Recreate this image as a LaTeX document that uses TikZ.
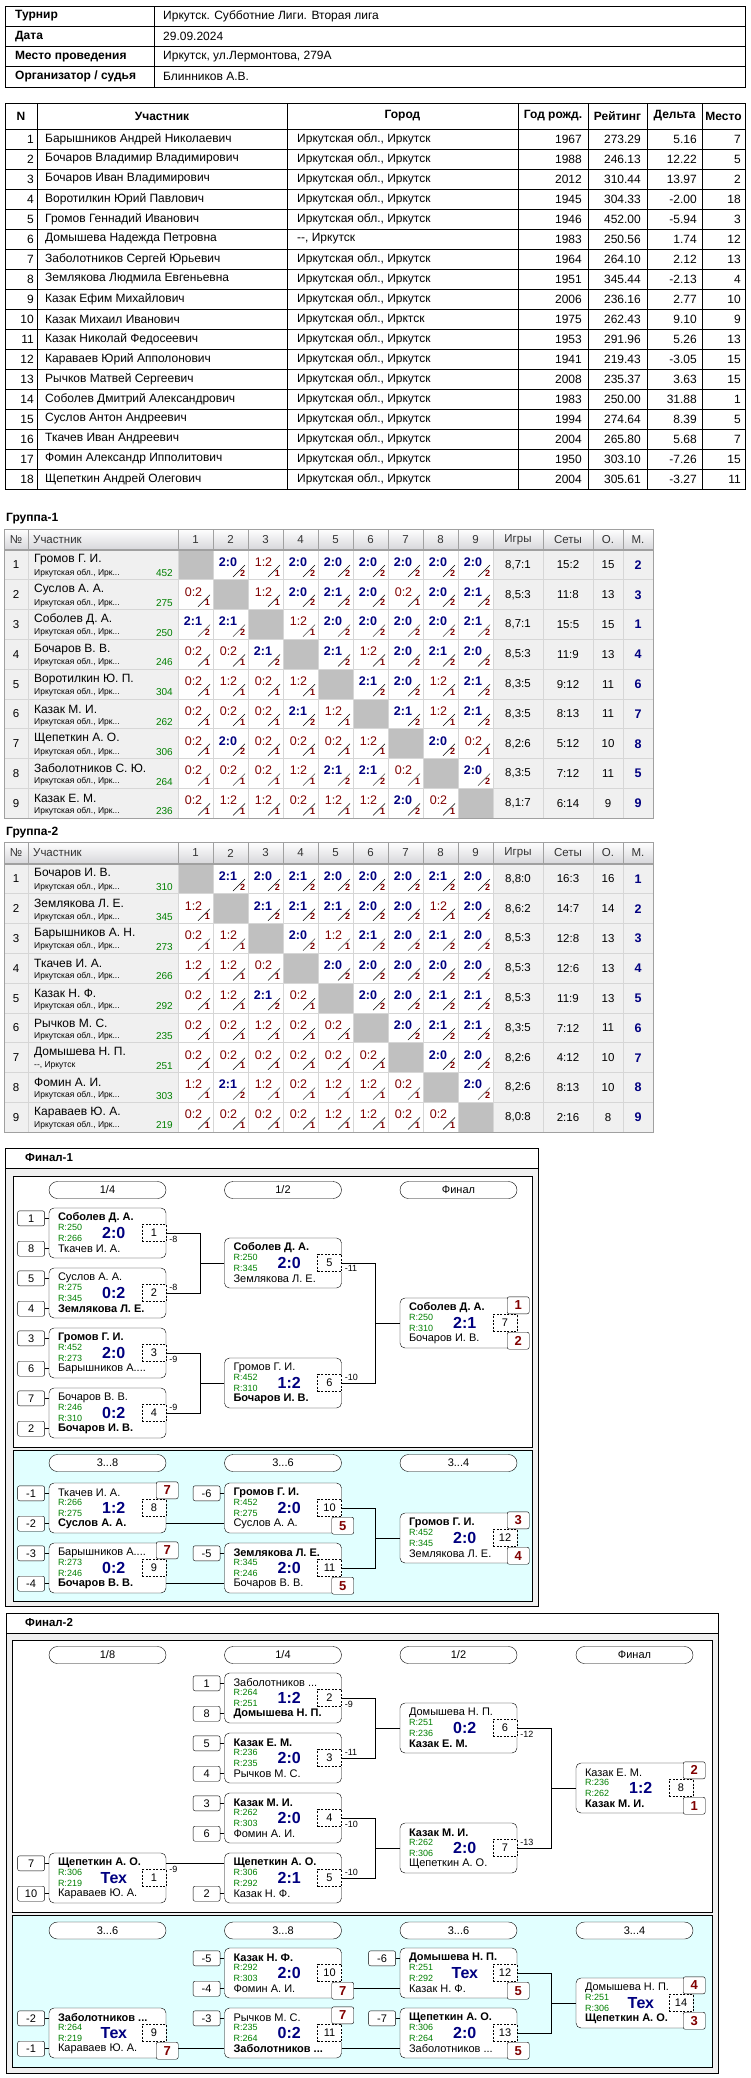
\documentclass[tikz,border=0pt]{standalone}
\usepackage{fontspec}
\setmainfont{Liberation Sans}
\usetikzlibrary{positioning}

\definecolor{winblue}{RGB}{0,0,128}
\definecolor{lossred}{RGB}{128,0,0}
\definecolor{rgreen}{RGB}{0,128,0}
\definecolor{cellgray}{RGB}{240,240,240}
\definecolor{diaggray}{RGB}{192,192,192}
\definecolor{gridgray}{RGB}{214,214,214}
\definecolor{edgegray}{RGB}{160,160,160}
\definecolor{hdgray}{RGB}{214,214,218}
\definecolor{framegray}{RGB}{240,240,240}
\definecolor{consol}{RGB}{225,255,255}

\newcommand\fsz[1]{\fontsize{#1}{#1}\selectfont}

\tikzset{
  tkey/.style={anchor=west, inner sep=0pt, font=\fsz{12}\bfseries},
  tval/.style={anchor=west, inner sep=0pt, font=\fsz{12}},
  thead/.style={inner sep=0pt, font=\fsz{12}\bfseries},
  tleft/.style={anchor=west, inner sep=0pt, font=\fsz{12}},
  tright/.style={anchor=east, inner sep=0pt, font=\fsz{12}},
  ghead/.style={inner sep=0pt, font=\fsz{11.5}, text=black!80},
  gname/.style={anchor=west, inner sep=0pt, font=\fsz{12}},
  gcity/.style={anchor=west, inner sep=0pt, font=\fsz{8.5}},
  grate/.style={anchor=east, inner sep=0pt, font=\fsz{10}, text=rgreen},
  gstat/.style={inner sep=0pt, font=\fsz{11.5}},
  gplace/.style={inner sep=0pt, font=\fsz{12.5}\bfseries, text=winblue},
  winsc/.style={inner sep=0pt, font=\fsz{12.5}\bfseries, text=winblue},
  losssc/.style={inner sep=0pt, font=\fsz{12.5}, text=lossred},
  ptsc/.style={inner sep=0pt, font=\fsz{9}\bfseries, text=lossred},
  slash/.style={line width=0.5pt},
  gline/.style={gridgray, line width=0.7pt},
  mbox/.style={draw, fill=white, rounded corners=5pt, minimum width=117pt, minimum height=50pt, inner sep=0pt},
  pill/.style={draw, fill=white, rounded corners=8.5pt, minimum width=117pt, minimum height=17pt, inner sep=0pt, font=\fsz{11}},
  seedbox/.style={draw, fill=white, rounded corners=2pt, minimum width=27pt, minimum height=15pt, inner sep=0pt, font=\fsz{11}},
  placebox/.style={draw, fill=white, rounded corners=2pt, minimum width=22pt, minimum height=17pt, inner sep=0pt, font=\fsz{13}\bfseries, text=lossred},
  mnum/.style={draw, dash pattern=on 2pt off 1.5pt, fill=white, minimum width=24pt, minimum height=17pt, inner sep=0pt, font=\fsz{11}},
  pname/.style={anchor=west, inner sep=0pt, font=\fsz{11}},
  prate/.style={anchor=west, inner sep=0pt, font=\fsz{9}, text=rgreen},
  pscore/.style={inner sep=0pt, font=\fsz{16}\bfseries, text=winblue},
  flabel/.style={inner sep=0pt, font=\fsz{9}},
  link/.style={line width=0.7pt},
}

% one score cell of a group table, at (\cx,\cy)
\def\gcellparse#1:#2\relax{%
  \if x#1%
    \fill[diaggray] (\cx,\cy) rectangle ++(35,29.8);
  \else
    \ifnum#1=2
      \node[winsc] at (\cx+15,\cy+12) {#1:#2};
      \node[ptsc] at (\cx+29.5,\cy+23) {2};
    \else
      \node[losssc] at (\cx+15.5,\cy+12) {#1:#2};
      \node[ptsc] at (\cx+29.5,\cy+23) {1};
    \fi
    \draw[slash] (\cx+20,\cy+27) -- (\cx+32,\cy+15);
  \fi}

% header and backgrounds of a group table
\newcommand\gframe[2]{%
  \shade[top color=white, bottom color=hdgray] (4,#1) rectangle (653,#2);
  \fill[cellgray] (4,#2) rectangle (178,#2+268);
  \fill[white] (178,#2) rectangle (493,#2+268);
  \fill[cellgray] (493,#2) rectangle (653,#2+268);
  \pgfmathsetmacro\hy{(#1+#2)/2}
  \node[ghead] at (16,\hy) {№};
  \node[ghead, anchor=west] at (33,\hy) {Участник};
  \foreach \ci in {1,...,9} \node[ghead] at (160.5+35*\ci,\hy) {\ci};
  \foreach \hx/\htxt in {518/Игры,568/Сеты,608/О.,638/М.} \node[ghead] at (\hx,\hy) {\htxt};
}

% grid lines of a group table
\newcommand\ggrid[2]{%
  \foreach \xx in {28,493,543,593,623} {\draw[gline] (\xx,#2) -- (\xx,#2+268); \draw[edgegray] (\xx,#1) -- (\xx,#2);}
  \foreach \xx in {178,213,...,458} {\draw[gline] (\xx,#2) -- (\xx,#2+268); \draw[edgegray] (\xx,#1) -- (\xx,#2);}
  \foreach \k in {1,...,8} \draw[gline] (4,#2+29.8*\k) -- (653,#2+29.8*\k);
  \draw[edgegray, line width=1.5pt] (4,#2) -- (653,#2);
  \draw[edgegray, line width=0.8pt] (4,#1) rectangle (653,#2+268);
}

% one row of a group table
\newcommand\growbody{%
  \pgfmathsetmacro\cy{\gtop+29.8*(\ri-1)}
  \node[gstat] (\gid-n\ri) at (16,\cy+15) {\ri};
  \node[gname] (\gid-a\ri) at (34,\cy+10) {\nm};
  \node[gcity] (\gid-c\ri) at (34,\cy+23) {\ct};
  \node[grate] (\gid-r\ri) at (173,\cy+23) {\rt};
  \foreach \sco [count=\ci] in \scl {%
    \pgfmathsetmacro\cx{178+35*(\ci-1)}
    \expandafter\gcellparse\sco\relax}
  \node[gstat] (\gid-i\ri) at (518,\cy+15) {\ig};
  \node[gstat] (\gid-s\ri) at (568,\cy+15) {\se};
  \node[gstat] (\gid-o\ri) at (608,\cy+15) {\oc};
  \node[gplace] (\gid-m\ri) at (638,\cy+15) {\pl};
}

% match box: id, centre, upper, lower, R upper, R lower, score, number, winner
\newcommand\matchbox[9]{%
  \ifnum#9=1 \def\fa{\bfseries}\def\fb{}\else\def\fa{}\def\fb{\bfseries}\fi
  \node[mbox] (#1) at (#2) {};
  \node[pname] (#1-a) at ([xshift=9pt,yshift=-10pt]#1.north west) {\fa #3};
  \node[prate] (#1-ra) at ([xshift=9pt,yshift=-20pt]#1.north west) {R:#5};
  \node[prate] (#1-rb) at ([xshift=9pt,yshift=-31pt]#1.north west) {R:#6};
  \node[pname] (#1-b) at ([xshift=9pt,yshift=-41pt]#1.north west) {\fb #4};
  \node[pscore] (#1-sc) at ([xshift=65pt]#1.west) {#7};
  \node[mnum, anchor=east] (#1-n) at (#1.east) {#8};
}
\newcommand\seedup[2]{%
  \node[seedbox, anchor=east] (#1-su) at ([xshift=-4pt,yshift=-10.5pt]#1.north west) {#2};
  \draw[link] (#1-su.east) -- (#1-su.east -| #1.west);}
\newcommand\seeddown[2]{%
  \node[seedbox, anchor=east] (#1-sd) at ([xshift=-4pt,yshift=9.5pt]#1.south west) {#2};
  \draw[link] (#1-sd.east) -- (#1-sd.east -| #1.west);}
\newcommand\placeup[2]{\node[placebox] (#1-pu) at ([xshift=1pt,yshift=-7.5pt]#1.north east) {#2};}
\newcommand\placedown[2]{\node[placebox] (#1-pd) at ([xshift=1pt,yshift=7.5pt]#1.south east) {#2};}
% two boxes feeding the next one
\newcommand\feedpair[5]{%
  \draw[link] (#1.east) -- ++(34,0) |- (#3.west);
  \draw[link] (#2.east) -- ++(34,0) |- (#3.west);
  \node[flabel, anchor=north west] (#1-l) at ([xshift=3pt,yshift=-2.5pt]#1.east) {#4};
  \node[flabel, anchor=south west] (#2-l) at ([xshift=3pt,yshift=2.5pt]#2.east) {#5};}

\begin{document}
\begin{tikzpicture}[x=1pt,y=-1pt]
\useasboundingbox (0,0) rectangle (750,2078);
\fill[white] (0,0) rectangle (750,2078);

% tournament header
\draw[line width=0.8pt] (5,6) rectangle (745,87);
\foreach \yy in {26.25,46.5,66.75} \draw[line width=0.8pt] (5,\yy) -- (745,\yy);
\draw[line width=0.8pt] (154,6) -- (154,87);
\foreach \hkey/\hval [count=\i from 0] in {Турнир/Иркутск. Субботние Лиги. Вторая лига, Дата/29.09.2024, {Место проведения}/{Иркутск, ул.Лермонтова, 279А}, {Организатор / судья}/Блинников А.В.}
{
  \node[tkey] (hk\i) at (15,16.1+20.25*\i) {\hkey};
  \node[tval] (hv\i) at (163,16.1+20.25*\i) {\hval};
}

% participants
\draw[line width=0.8pt] (5,103) rectangle (745,489);
\foreach \xx in {37,287,518,588,647,702} \draw[line width=0.8pt] (\xx,103) -- (\xx,489);
\foreach \k in {0,...,17} \draw[line width=0.8pt] (5,129+20*\k) -- (745,129+20*\k);
\foreach \hx/\htxt [count=\i] in {21/N,162/Участник,402.5/Город,553/{Год рожд.},617.5/Рейтинг,674.5/Дельта,723.5/Место}
  \node[thead] (ph\i) at (\hx,116) {\htxt};
\foreach \nm/\ct/\yr/\rt/\dl/\pl [count=\ri] in {
  {Барышников Андрей Николаевич}/{Иркутская обл., Иркутск}/1967/273.29/5.16/7,
  {Бочаров Владимир Владимирович}/{Иркутская обл., Иркутск}/1988/246.13/12.22/5,
  {Бочаров Иван Владимирович}/{Иркутская обл., Иркутск}/2012/310.44/13.97/2,
  {Воротилкин Юрий Павлович}/{Иркутская обл., Иркутск}/1945/304.33/-2.00/18,
  {Громов Геннадий Иванович}/{Иркутская обл., Иркутск}/1946/452.00/-5.94/3,
  {Домышева Надежда Петровна}/{-{}-, Иркутск}/1983/250.56/1.74/12,
  {Заболотников Сергей Юрьевич}/{Иркутская обл., Иркутск}/1964/264.10/2.12/13,
  {Землякова Людмила Евгеньевна}/{Иркутская обл., Иркутск}/1951/345.44/-2.13/4,
  {Казак Ефим Михайлович}/{Иркутская обл., Иркутск}/2006/236.16/2.77/10,
  {Казак Михаил Иванович}/{Иркутская обл., Ирктск}/1975/262.43/9.10/9,
  {Казак Николай Федосеевич}/{Иркутская обл., Иркутск}/1953/291.96/5.26/13,
  {Караваев Юрий Апполонович}/{Иркутская обл., Иркутск}/1941/219.43/-3.05/15,
  {Рычков Матвей Сергеевич}/{Иркутская обл., Иркутск}/2008/235.37/3.63/15,
  {Соболев Дмитрий Александрович}/{Иркутская обл., Иркутск}/1983/250.00/31.88/1,
  {Суслов Антон Андреевич}/{Иркутская обл., Иркутск}/1994/274.64/8.39/5,
  {Ткачев Иван Андреевич}/{Иркутская обл., Иркутск}/2004/265.80/5.68/7,
  {Фомин Александр Ипполитович}/{Иркутская обл., Иркутск}/1950/303.10/-7.26/15,
  {Щепеткин Андрей Олегович}/{Иркутская обл., Иркутск}/2004/305.61/-3.27/11}
{
  \node[tright] (pn\ri) at (34,119+20*\ri) {\ri};
  \node[tleft] (pa\ri) at (45,119+20*\ri) {\nm};
  \node[tleft] (pc\ri) at (297,119+20*\ri) {\ct};
  \node[tright] (py\ri) at (582,119+20*\ri) {\yr};
  \node[tright] (pr\ri) at (641,119+20*\ri) {\rt};
  \node[tright] (pd\ri) at (697,119+20*\ri) {\dl};
  \node[tright] (pp\ri) at (741,119+20*\ri) {\pl};
}

% Группа-1
\node[anchor=west, inner sep=0pt, font=\fsz{12}\bfseries] (g1t) at (6,519) {Группа-1};
\gframe{529}{550}
\def\gtop{550}\def\gid{g1}
\foreach \nm/\ct/\rt/\scl/\ig/\se/\oc/\pl [count=\ri] in {
  {Громов Г. И.}/{Иркутская обл., Ирк...}/452/{x:x,2:0,1:2,2:0,2:0,2:0,2:0,2:0,2:0}/{8,7:1}/15:2/15/2,
  {Суслов А. А.}/{Иркутская обл., Ирк...}/275/{0:2,x:x,1:2,2:0,2:1,2:0,0:2,2:0,2:1}/{8,5:3}/11:8/13/3,
  {Соболев Д. А.}/{Иркутская обл., Ирк...}/250/{2:1,2:1,x:x,1:2,2:0,2:0,2:0,2:0,2:1}/{8,7:1}/15:5/15/1,
  {Бочаров В. В.}/{Иркутская обл., Ирк...}/246/{0:2,0:2,2:1,x:x,2:1,1:2,2:0,2:1,2:0}/{8,5:3}/11:9/13/4,
  {Воротилкин Ю. П.}/{Иркутская обл., Ирк...}/304/{0:2,1:2,0:2,1:2,x:x,2:1,2:0,1:2,2:1}/{8,3:5}/9:12/11/6,
  {Казак М. И.}/{Иркутская обл., Ирк...}/262/{0:2,0:2,0:2,2:1,1:2,x:x,2:1,1:2,2:1}/{8,3:5}/8:13/11/7,
  {Щепеткин А. О.}/{Иркутская обл., Ирк...}/306/{0:2,2:0,0:2,0:2,0:2,1:2,x:x,2:0,0:2}/{8,2:6}/5:12/10/8,
  {Заболотников С. Ю.}/{Иркутская обл., Ирк...}/264/{0:2,0:2,0:2,1:2,2:1,2:1,0:2,x:x,2:0}/{8,3:5}/7:12/11/5,
  {Казак Е. М.}/{Иркутская обл., Ирк...}/236/{0:2,1:2,1:2,0:2,1:2,1:2,2:0,0:2,x:x}/{8,1:7}/6:14/9/9}
{\growbody}
\ggrid{529}{550}

% Группа-2
\node[anchor=west, inner sep=0pt, font=\fsz{12}\bfseries] (g2t) at (6,833) {Группа-2};
\gframe{842}{864}
\def\gtop{864}\def\gid{g2}
\foreach \nm/\ct/\rt/\scl/\ig/\se/\oc/\pl [count=\ri] in {
  {Бочаров И. В.}/{Иркутская обл., Ирк...}/310/{x:x,2:1,2:0,2:1,2:0,2:0,2:0,2:1,2:0}/{8,8:0}/16:3/16/1,
  {Землякова Л. Е.}/{Иркутская обл., Ирк...}/345/{1:2,x:x,2:1,2:1,2:1,2:0,2:0,1:2,2:0}/{8,6:2}/14:7/14/2,
  {Барышников А. Н.}/{Иркутская обл., Ирк...}/273/{0:2,1:2,x:x,2:0,1:2,2:1,2:0,2:1,2:0}/{8,5:3}/12:8/13/3,
  {Ткачев И. А.}/{Иркутская обл., Ирк...}/266/{1:2,1:2,0:2,x:x,2:0,2:0,2:0,2:0,2:0}/{8,5:3}/12:6/13/4,
  {Казак Н. Ф.}/{Иркутская обл., Ирк...}/292/{0:2,1:2,2:1,0:2,x:x,2:0,2:0,2:1,2:1}/{8,5:3}/11:9/13/5,
  {Рычков М. С.}/{Иркутская обл., Ирк...}/235/{0:2,0:2,1:2,0:2,0:2,x:x,2:0,2:1,2:1}/{8,3:5}/7:12/11/6,
  {Домышева Н. П.}/{-{}-, Иркутск}/251/{0:2,0:2,0:2,0:2,0:2,0:2,x:x,2:0,2:0}/{8,2:6}/4:12/10/7,
  {Фомин А. И.}/{Иркутская обл., Ирк...}/303/{1:2,2:1,1:2,0:2,1:2,1:2,0:2,x:x,2:0}/{8,2:6}/8:13/10/8,
  {Караваев Ю. А.}/{Иркутская обл., Ирк...}/219/{0:2,0:2,0:2,0:2,1:2,1:2,0:2,0:2,x:x}/{8,0:8}/2:16/8/9}
{\growbody}
\ggrid{842}{864}

% Финал-1
\draw[fill=framegray, line width=0.8pt] (5,1148) rectangle (538,1606);
\draw[fill=white, line width=0.8pt] (5,1148) rectangle (538,1168);
\node[anchor=west, inner sep=0pt, font=\fsz{11.5}\bfseries] (f1t) at (25,1158) {Финал-1};
\draw[fill=white] (13,1176) rectangle (532,1447);
\draw[fill=consol] (13,1450) rectangle (532,1601);
\node[pill] (f1p1) at (107.5,1190) {1/4};
\node[pill] (f1p2) at (283,1190) {1/2};
\node[pill] (f1p3) at (458.5,1190) {Финал};
\node[pill] (f1p4) at (107.5,1463) {3...8};
\node[pill] (f1p5) at (283,1463) {3...6};
\node[pill] (f1p6) at (458.5,1463) {3...4};

\matchbox{fa1}{107.5,1233}{Соболев Д. А.}{Ткачев И. А.}{250}{266}{2:0}{1}{1}
\matchbox{fa2}{107.5,1293}{Суслов А. А.}{Землякова Л. Е.}{275}{345}{0:2}{2}{2}
\matchbox{fa3}{107.5,1353}{Громов Г. И.}{Барышников А....}{452}{273}{2:0}{3}{1}
\matchbox{fa4}{107.5,1413}{Бочаров В. В.}{Бочаров И. В.}{246}{310}{0:2}{4}{2}
\matchbox{fa5}{283,1263}{Соболев Д. А.}{Землякова Л. Е.}{250}{345}{2:0}{5}{1}
\matchbox{fa6}{283,1383}{Громов Г. И.}{Бочаров И. В.}{452}{310}{1:2}{6}{2}
\matchbox{fa7}{458.5,1323}{Соболев Д. А.}{Бочаров И. В.}{250}{310}{2:1}{7}{1}
\matchbox{fa8}{107.5,1508}{Ткачев И. А.}{Суслов А. А.}{266}{275}{1:2}{8}{2}
\matchbox{fa9}{107.5,1568}{Барышников А....}{Бочаров В. В.}{273}{246}{0:2}{9}{2}
\matchbox{fa10}{283,1508}{Громов Г. И.}{Суслов А. А.}{452}{275}{2:0}{10}{1}
\matchbox{fa11}{283,1568}{Землякова Л. Е.}{Бочаров В. В.}{345}{246}{2:0}{11}{1}
\matchbox{fa12}{458.5,1538}{Громов Г. И.}{Землякова Л. Е.}{452}{345}{2:0}{12}{1}

\seedup{fa1}{1}\seeddown{fa1}{8}
\seedup{fa2}{5}\seeddown{fa2}{4}
\seedup{fa3}{3}\seeddown{fa3}{6}
\seedup{fa4}{7}\seeddown{fa4}{2}
\seedup{fa8}{-1}\seeddown{fa8}{-2}
\seedup{fa9}{-3}\seeddown{fa9}{-4}
\seedup{fa10}{-6}
\seedup{fa11}{-5}

\feedpair{fa1}{fa2}{fa5}{-8}{-8}
\feedpair{fa3}{fa4}{fa6}{-9}{-9}
\feedpair{fa5}{fa6}{fa7}{-11}{-10}
\feedpair{fa10}{fa11}{fa12}{}{}
\draw[link] ([yshift=-15pt]fa8.east) -- ([yshift=-15pt]fa10.west);
\draw[link] ([yshift=-15pt]fa9.east) -- ([yshift=-15pt]fa11.west);

\placeup{fa7}{1}\placedown{fa7}{2}
\placeup{fa8}{7}
\placeup{fa9}{7}
\placedown{fa10}{5}
\placedown{fa11}{5}
\placeup{fa12}{3}\placedown{fa12}{4}

% Финал-2
\draw[fill=framegray, line width=0.8pt] (6,1613) rectangle (718,2073);
\draw[fill=white, line width=0.8pt] (6,1613) rectangle (718,1633);
\node[anchor=west, inner sep=0pt, font=\fsz{11.5}\bfseries] (f2t) at (25,1623) {Финал-2};
\draw[fill=white] (12,1640) rectangle (712,1912);
\draw[fill=consol] (12,1915) rectangle (712,2067);
\node[pill] (f2p1) at (107.5,1655) {1/8};
\node[pill] (f2p2) at (283,1655) {1/4};
\node[pill] (f2p3) at (458.5,1655) {1/2};
\node[pill] (f2p4) at (634.5,1655) {Финал};
\node[pill] (f2p5) at (107.5,1930.5) {3...6};
\node[pill] (f2p6) at (283,1930.5) {3...8};
\node[pill] (f2p7) at (458.5,1930.5) {3...6};
\node[pill] (f2p8) at (634.5,1930.5) {3...4};

\matchbox{fb1}{107.5,1878}{Щепеткин А. О.}{Караваев Ю. А.}{306}{219}{Тех}{1}{1}
\matchbox{fb2}{283,1698}{Заболотников ...}{Домышева Н. П.}{264}{251}{1:2}{2}{2}
\matchbox{fb3}{283,1758}{Казак Е. М.}{Рычков М. С.}{236}{235}{2:0}{3}{1}
\matchbox{fb4}{283,1818}{Казак М. И.}{Фомин А. И.}{262}{303}{2:0}{4}{1}
\matchbox{fb5}{283,1878}{Щепеткин А. О.}{Казак Н. Ф.}{306}{292}{2:1}{5}{1}
\matchbox{fb6}{458.5,1728}{Домышева Н. П.}{Казак Е. М.}{251}{236}{0:2}{6}{2}
\matchbox{fb7}{458.5,1848}{Казак М. И.}{Щепеткин А. О.}{262}{306}{2:0}{7}{1}
\matchbox{fb8}{634.5,1788}{Казак Е. М.}{Казак М. И.}{236}{262}{1:2}{8}{2}
\matchbox{fb9}{107.5,2033}{Заболотников ...}{Караваев Ю. А.}{264}{219}{Тех}{9}{1}
\matchbox{fb10}{283,1973}{Казак Н. Ф.}{Фомин А. И.}{292}{303}{2:0}{10}{1}
\matchbox{fb11}{283,2033}{Рычков М. С.}{Заболотников ...}{235}{264}{0:2}{11}{2}
\matchbox{fb12}{458.5,1973}{Домышева Н. П.}{Казак Н. Ф.}{251}{292}{Тех}{12}{1}
\matchbox{fb13}{458.5,2033}{Щепеткин А. О.}{Заболотников ...}{306}{264}{2:0}{13}{1}
\matchbox{fb14}{634.5,2003}{Домышева Н. П.}{Щепеткин А. О.}{251}{306}{Тех}{14}{2}

\seedup{fb1}{7}\seeddown{fb1}{10}
\seedup{fb2}{1}\seeddown{fb2}{8}
\seedup{fb3}{5}\seeddown{fb3}{4}
\seedup{fb4}{3}\seeddown{fb4}{6}
\seeddown{fb5}{2}
\seedup{fb9}{-2}\seeddown{fb9}{-1}
\seedup{fb10}{-5}\seeddown{fb10}{-4}
\seedup{fb11}{-3}
\seedup{fb12}{-6}
\seedup{fb13}{-7}

\draw[link] ([yshift=15pt]fb1.east) -- ([yshift=15pt]fb5.west);
\node[flabel, anchor=north west] (fb1-l) at ([xshift=3pt,yshift=12.5pt]fb1.east) {-9};
\feedpair{fb2}{fb3}{fb6}{-9}{-11}
\feedpair{fb4}{fb5}{fb7}{-10}{-10}
\feedpair{fb6}{fb7}{fb8}{-12}{-13}
\feedpair{fb12}{fb13}{fb14}{}{}
\draw[link] ([yshift=-15pt]fb9.east) -- ([yshift=-15pt]fb11.west);
\draw[link] ([yshift=-15pt]fb10.east) -- ([yshift=-15pt]fb12.west);
\draw[link] ([yshift=-15pt]fb11.east) -- ([yshift=-15pt]fb13.west);

\placeup{fb8}{2}\placedown{fb8}{1}
\placedown{fb9}{7}
\placedown{fb10}{7}
\placeup{fb11}{7}
\placedown{fb12}{5}
\placedown{fb13}{5}
\placeup{fb14}{4}\placedown{fb14}{3}
\end{tikzpicture}
\end{document}
